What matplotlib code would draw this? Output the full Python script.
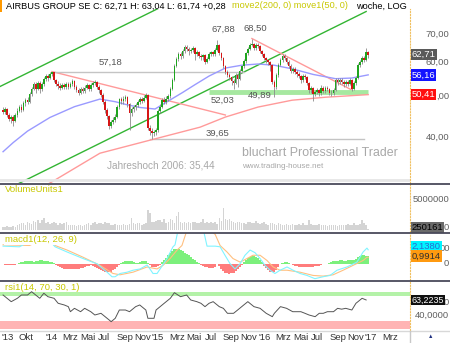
import datetime as dt
import numpy as np
import matplotlib
matplotlib.use('Agg')
import matplotlib.pyplot as plt
from matplotlib.lines import Line2D
from matplotlib.patches import Rectangle

plt.rcParams['font.family'] = ['Liberation Sans', 'DejaVu Sans']

# weekly candles, first week ending 2013-08-09
start = dt.date(2013, 8, 9)

opens = [46.3, 45.9, 46.5, 45.2, 44.1, 44.5, 43.6, 45.0, 46.2, 47.0,
         46.4, 48.1, 49.0, 48.5, 50.6, 52.0, 53.3, 52.1, 53.8, 52.0,
         53.4, 54.9, 55.8, 55.1, 56.4, 57.0, 54.6, 53.5, 52.8, 52.4,
         53.1, 52.6, 53.5, 52.7, 53.3, 54.2, 52.5, 51.8, 51.0, 52.1,
         51.5, 52.4, 53.1, 51.9, 53.0, 53.8, 54.1, 52.6, 51.7, 50.4,
         48.5, 46.3, 44.8, 42.4, 43.5, 44.0, 44.7, 47.0, 49.1, 48.6,
         49.3, 49.7, 47.8, 45.7, 46.5, 47.0, 47.6, 48.5, 49.1, 48.8,
         49.6, 50.4, 42.0, 41.3, 40.8, 41.0, 41.5, 46.0, 47.2, 49.0,
         48.5, 49.3, 50.0, 52.0, 54.6, 59.0, 61.2, 63.0, 62.1, 64.0,
         65.5, 64.8, 63.9, 64.4, 65.2, 62.9, 63.7, 62.2, 61.8, 62.5,
         60.4, 61.3, 62.9, 63.5, 62.8, 64.5, 66.0, 63.2, 61.6, 59.0,
         57.0, 56.2, 55.5, 54.3, 53.8, 56.2, 55.0, 57.4, 58.8, 60.5,
         63.2, 64.8, 66.3, 66.5, 64.9, 66.2, 65.6, 64.0, 62.9, 61.5,
         60.8, 60.1, 59.3, 54.1, 52.5, 56.0, 59.3, 61.0, 62.3, 61.5,
         60.4, 59.0, 57.4, 58.0, 57.0, 56.3, 55.8, 54.6, 55.9, 55.5,
         53.6, 51.6, 52.3, 50.6, 51.2, 51.6, 50.8, 52.4, 51.5, 52.3,
         52.0, 51.0, 50.9, 51.6, 54.6, 53.9, 54.6, 54.0, 53.4, 54.0,
         53.5, 54.6, 52.0, 53.6, 55.1, 59.3, 60.2, 61.6, 60.8, 63.6]
highs = [47.0, 47.1, 46.9, 45.6, 45.2, 45.0, 45.6, 46.8, 47.6, 47.9,
         48.7, 49.6, 49.8, 51.2, 52.6, 54.0, 53.9, 54.4, 54.3, 54.0,
         55.5, 56.3, 56.4, 56.9, 57.18, 57.1, 55.0, 54.2, 53.6, 53.8,
         53.7, 54.1, 54.0, 54.0, 54.8, 54.6, 53.0, 52.3, 52.7, 52.6,
         53.0, 53.7, 53.5, 53.6, 54.3, 54.7, 54.4, 53.1, 52.0, 50.8,
         48.9, 46.8, 45.2, 44.0, 44.6, 45.3, 47.6, 49.6, 49.8, 49.9,
         50.3, 50.0, 48.1, 47.1, 47.6, 48.2, 49.0, 49.7, 49.8, 50.2,
         51.0, 50.7, 42.6, 41.9, 41.6, 42.1, 46.6, 47.8, 49.5, 49.7,
         49.9, 50.6, 52.6, 55.2, 59.6, 61.8, 63.6, 63.8, 64.6, 66.0,
         66.1, 65.3, 65.0, 65.8, 65.5, 64.3, 64.0, 62.9, 63.1, 62.8,
         61.9, 63.5, 64.1, 64.0, 65.1, 67.88, 66.4, 63.7, 62.0, 59.4,
         57.6, 56.8, 55.9, 55.0, 56.8, 56.7, 58.0, 59.4, 61.1, 63.8,
         65.4, 66.9, 68.50, 67.0, 66.8, 66.9, 66.0, 64.5, 63.3, 62.0,
         61.3, 60.6, 59.6, 54.7, 56.6, 59.9, 61.6, 62.9, 62.9, 62.0,
         60.9, 59.5, 58.6, 58.5, 57.6, 56.9, 56.2, 56.5, 56.5, 55.9,
         54.0, 52.9, 52.7, 51.8, 52.2, 52.1, 53.0, 52.9, 52.9, 52.9,
         52.4, 51.6, 52.2, 55.2, 55.1, 55.2, 55.1, 54.5, 54.6, 54.5,
         55.2, 55.0, 54.2, 55.7, 59.9, 60.8, 62.2, 62.1, 65.0, 64.0]
lows = [45.3, 45.4, 44.7, 43.6, 43.2, 42.4, 43.3, 44.6, 45.8, 45.9,
        46.0, 47.5, 47.9, 48.2, 50.1, 51.6, 51.0, 51.8, 50.9, 51.5,
        52.9, 54.3, 54.4, 54.8, 55.7, 54.0, 52.8, 52.0, 51.7, 51.9,
        52.0, 52.1, 52.1, 52.2, 52.9, 51.9, 51.1, 50.4, 50.6, 50.8,
        51.0, 51.9, 51.3, 51.5, 52.5, 53.0, 52.0, 51.0, 49.7, 47.9,
        45.6, 44.1, 41.8, 42.0, 43.0, 43.5, 44.4, 46.6, 47.9, 48.0,
        48.7, 47.2, 41.6, 44.8, 45.9, 46.4, 47.1, 48.0, 48.2, 48.3,
        49.1, 41.5, 40.4, 39.65, 40.1, 40.5, 41.2, 45.6, 46.8, 47.8,
        48.0, 48.8, 49.6, 51.6, 54.2, 58.5, 60.6, 61.2, 61.6, 63.4,
        64.0, 62.6, 63.2, 63.8, 61.0, 62.2, 61.5, 60.8, 61.0, 59.7,
        59.9, 60.8, 62.3, 62.1, 62.4, 64.0, 62.5, 60.9, 58.3, 56.3,
        55.5, 54.6, 53.2, 52.03, 53.4, 52.6, 54.6, 56.9, 58.3, 60.0,
        62.7, 64.2, 65.7, 64.2, 64.4, 64.9, 63.3, 62.2, 60.8, 60.0,
        59.4, 57.5, 53.5, 49.89, 52.0, 55.5, 58.8, 60.4, 60.9, 59.7,
        58.3, 56.6, 56.8, 56.3, 55.4, 55.1, 53.8, 54.1, 54.8, 53.0,
        50.9, 51.0, 48.8, 50.0, 50.5, 50.1, 50.4, 50.9, 51.0, 51.3,
        50.3, 50.1, 50.4, 51.3, 53.2, 53.3, 53.3, 52.7, 52.9, 52.8,
        53.0, 51.4, 51.6, 53.1, 54.8, 58.7, 59.7, 60.2, 60.5, 61.74]
closes = [45.9, 46.5, 45.2, 44.1, 44.5, 43.6, 45.0, 46.2, 47.0, 46.4,
          48.1, 49.0, 48.5, 50.6, 52.0, 53.3, 52.1, 53.8, 52.0, 53.4,
          54.9, 55.8, 55.1, 56.4, 57.0, 54.6, 53.5, 52.8, 52.4, 53.1,
          52.6, 53.5, 52.7, 53.3, 54.2, 52.5, 51.8, 51.0, 52.1, 51.5,
          52.4, 53.1, 51.9, 53.0, 53.8, 54.1, 52.6, 51.7, 50.4, 48.5,
          46.3, 44.8, 42.4, 43.5, 44.0, 44.7, 47.0, 49.1, 48.6, 49.3,
          49.7, 47.8, 45.7, 46.5, 47.0, 47.6, 48.5, 49.1, 48.8, 49.6,
          50.4, 42.0, 41.3, 40.8, 41.0, 41.5, 46.0, 47.2, 49.0, 48.5,
          49.3, 50.0, 52.0, 54.6, 59.0, 61.2, 63.0, 62.1, 64.0, 65.5,
          64.8, 63.9, 64.4, 65.2, 62.9, 63.7, 62.2, 61.8, 62.5, 60.4,
          61.3, 62.9, 63.5, 62.8, 64.5, 66.0, 63.2, 61.6, 59.0, 57.0,
          56.2, 55.5, 54.3, 53.8, 56.2, 55.0, 57.4, 58.8, 60.5, 63.2,
          64.8, 66.3, 66.5, 64.9, 66.2, 65.6, 64.0, 62.9, 61.5, 60.8,
          60.1, 59.3, 54.1, 52.5, 56.0, 59.3, 61.0, 62.3, 61.5, 60.4,
          59.0, 57.4, 58.0, 57.0, 56.3, 55.8, 54.6, 55.9, 55.5, 53.6,
          51.6, 52.3, 50.6, 51.2, 51.6, 50.8, 52.4, 51.5, 52.3, 52.0,
          51.0, 50.9, 51.6, 54.6, 53.9, 54.6, 54.0, 53.4, 54.0, 53.5,
          54.6, 52.0, 53.6, 55.1, 59.3, 60.2, 61.6, 60.8, 63.6, 62.71]

# volume in millions of units
volume_mio = [0.6, 0.5, 0.7, 0.6, 0.5, 0.7, 0.6, 0.8,
              1.0, 1.2, 1.1, 0.9, 1.3, 1.2, 1.0, 1.5, 1.4, 1.7, 1.2, 1.6, 2.0,
              1.1, 1.3, 1.0, 1.2, 1.4, 1.1, 0.9, 1.2, 1.0, 1.1, 1.3,
              0.8, 0.9, 0.8, 0.9, 0.7, 0.8, 0.9, 0.7, 0.9,
              1.0, 1.2, 0.9, 1.1, 1.4, 1.0, 1.1, 1.2, 1.0, 1.3, 1.1, 1.2,
              0.9, 0.8, 1.0, 0.9, 0.8, 0.9, 1.0, 0.8, 0.9, 1.0, 2.0,
              1.1, 1.0, 1.2, 1.1, 0.9, 1.0, 1.2,
              3.4, 2.8, 1.4, 1.3,
              1.5, 1.7, 1.6, 1.3, 1.8, 1.2, 1.4, 1.9,
              1.6, 1.2, 2.3, 3.0,
              1.3, 1.2, 1.4, 1.1, 1.3, 1.2, 1.4, 1.3, 1.1, 1.2, 1.3,
              1.8,
              1.2, 1.3, 1.1, 1.4, 1.2, 1.3, 1.0, 2.0, 1.5,
              3.7,
              1.8, 1.6, 1.9, 1.5,
              1.3, 1.2, 1.4, 1.3, 1.1, 1.2, 1.0, 1.3, 1.4, 1.2, 1.1, 1.5, 1.2, 1.0, 1.1, 1.3,
              1.0, 0.9, 1.1, 1.2, 1.0, 0.9, 1.1, 1.0, 0.8, 0.9, 1.0, 0.9, 0.8, 1.0, 0.9,
              0.8, 1.0, 0.9, 1.1, 0.8, 0.9,
              1.6,
              1.0, 0.9, 0.8, 0.9, 1.0, 0.8, 0.9, 0.8, 0.7, 0.9, 0.8, 0.9, 0.8, 0.7, 0.9,
              0.8, 0.9, 0.8, 1.0, 0.9, 0.8, 1.1, 0.9, 0.8, 1.0,
              1.7, 1.2, 0.9, 0.25]

macd_hist = [-0.1, -0.15,
             -0.2, -0.25, -0.25, -0.2, -0.15, -0.1,
             0.1, 0.2, 0.3, 0.35, 0.4, 0.4, 0.35, 0.3, 0.35, 0.45, 0.5, 0.5, 0.45, 0.4, 0.35, 0.3, 0.2, 0.1,
             -0.2, -0.4, -0.55, -0.7, -0.8, -0.85, -0.85, -0.8, -0.8, -0.75, -0.8, -0.75, -0.7, -0.6, -0.5,
             -0.4, -0.3, -0.25, -0.3, -0.45, -0.6,
             -0.8, -1.0, -1.15, -1.25, -1.3, -1.3, -1.2, -1.0, -0.75, -0.45, -0.15,
             0.1, 0.25, 0.4, 0.45, 0.45, 0.35, 0.2, 0.1, 0.15, 0.3, 0.4, 0.45, 0.35, 0.1,
             -0.2, -0.45, -0.55, -0.5, -0.35, -0.15,
             0.2, 0.5, 0.9, 1.3, 1.7, 2.0, 2.2, 2.3, 2.25, 2.1, 1.9, 1.7, 1.5, 1.3, 1.05, 0.8, 0.55, 0.3, 0.1,
             -0.15, -0.3, -0.45, -0.55, -0.65, -0.7, -0.65, -0.5,
             -0.1,
             -0.4, -0.8, -1.1, -1.35, -1.5, -1.55, -1.5, -1.35, -1.1, -0.8, -0.5, -0.2,
             0.3, 0.6, 0.9, 1.1, 1.2, 1.2, 1.1, 0.9, 0.6, 0.25,
             -0.3, -0.7, -1.0, -1.2, -1.3, -1.2, -0.9, -0.5,
             -0.1, 0.1, 0.2, 0.2, 0.1, -0.05,
             -0.2, -0.3, -0.4, -0.45, -0.5, -0.5, -0.45, -0.45, -0.5, -0.5, -0.45, -0.4, -0.35, -0.3, -0.2, -0.1,
             -0.05, 0.0, 0.05,
             0.3, 0.4, 0.45, 0.45, 0.5, 0.5, 0.45, 0.45, 0.5, 0.5, 0.55, 0.6, 0.7,
             1.0, 1.2, 1.3, 1.3, 1.25, 1.15]

# moving averages, x in weeks from start
ma50_wk = [0, 5, 12, 23, 35, 47.5, 55, 60, 67, 74.5, 82, 88, 94, 101, 109, 117, 125, 133, 142, 152, 163, 171, 179]
ma50_val = [36.9, 38.8, 41.3, 44.5, 47.2, 49.2, 48.5, 47.8, 47.0, 46.6, 49.0, 51.0, 53.2, 55.8, 58.3, 59.2, 59.6,
            59.2, 58.0, 56.3, 55.0, 55.2, 56.16]
ma200_wk = [15, 23, 47.5, 72, 96.6, 109, 125, 141.7, 158, 179]
ma200_val = [29.8, 31.1, 36.6, 39.3, 42.2, 44.6, 47.1, 48.9, 49.7, 50.41]

macd_wk = [0, 8, 13, 18, 22, 25.5, 31.4, 39.2, 46, 51, 53.4, 54.9, 57.4, 60.8, 63.7, 67.2, 70.6, 72, 73.5, 75.5,
           77, 80.4, 83.3, 84.3, 86, 92, 98, 100, 104, 106.4, 108.8, 111.3, 113.7, 116.2, 118.6, 121.1, 123.5,
           126, 128.4, 130.9, 133.3, 135.8, 139.2, 142.2, 145.6, 149, 152.9, 156.9, 160.3, 163.7, 168.6, 173.5,
           176.5, 178.4, 179]
macd_val = [2.7, 2.6, 3.4, 4.0, 3.8, 2.6, 1.8, 0.8, 0.0, -1.3, -2.0, -2.0, -1.5, -1.3, -1.0, -0.8, -0.2, -0.8, -1.5,
            -1.5, -0.8, 0.8, 2.6, 2.9, 5.5, 6.0, 5.5, 2.7, 2.7, 2.6, 1.3, 0.0, -0.8, 0.0, 1.3, 2.1, 1.7, 0.8, -0.25,
            -1.0, -1.5, -1.0, -0.5, -1.0, -1.5, -1.8, -2.3, -2.0, -1.8, -1.0, -0.5, 0.25, 1.8, 2.4, 2.138]
signal_wk = [0, 13, 18, 22, 25.5, 31.4, 39.2, 47.5, 53.9, 57.4, 63.7, 70.6, 75.5, 78.4, 81.9, 85.3, 87.7, 90, 98,
             104, 106.4, 109.8, 112.7, 116.2, 119.6, 122.5, 126, 129.4, 132.4, 135.8, 139.2, 145.6, 152, 156.9,
             161.8, 166.7, 171.6, 176.5, 178.4, 179]
signal_val = [2.9, 2.8, 3.6, 3.7, 2.8, 2.1, 1.0, -0.25, -1.5, -1.7, -1.3, -0.5, -0.8, -0.25, 0.8, 2.1, 2.8, 5.0,
              6.0, 4.5, 2.8, 1.8, 0.8, 0.25, 0.8, 1.3, 1.3, 0.5, -0.5, -1.0, -1.0, -1.3, -1.8, -1.9, -1.7, -1.0,
              -0.25, 0.5, 1.0, 0.9914]

rsi_wk = [0, 4, 7, 9, 12, 14, 16, 18, 20, 22, 25, 27, 30, 32, 33, 35, 38, 40, 43, 45, 48, 51, 53, 55, 57, 60, 62,
          65, 67, 70, 71, 74, 75, 77, 79, 82, 84, 87, 90, 92, 95, 97, 99, 101, 103, 106, 108, 110, 113, 115, 118,
          120, 123, 126, 129, 132, 133, 136, 139, 142, 146, 148, 150, 153, 155, 157, 159, 162, 164, 166, 168, 171,
          173, 174, 176, 178]
rsi_val = [70.9, 60.6, 65.8, 70.9, 70.9, 76.0, 70.9, 65.8, 73.6, 68.3, 65.8, 58.1, 55.5, 52.9, 45.1, 50.3, 45.1,
           50.3, 45.1, 40.0, 42.6, 34.9, 29.7, 34.9, 47.7, 47.7, 45.1, 52.9, 55.5, 47.7, 34.9, 34.9, 47.7, 52.9,
           58.1, 65.8, 74.5, 68.3, 70.9, 63.2, 60.6, 58.1, 52.9, 58.1, 60.6, 52.9, 50.3, 42.6, 42.6, 47.7, 55.5,
           60.6, 52.9, 50.3, 42.6, 37.4, 42.6, 52.9, 50.3, 45.1, 45.1, 42.6, 40.0, 37.4, 42.6, 42.6, 45.1, 45.1,
           50.3, 49.0, 50.3, 47.7, 58.1, 60.6, 65.8, 63.2235]

# drawn trend lines: (week, price) end points
channel_low = ([-2, 178], [29.4, 79.4])
channel_high = ([-1.5, 80], [52.7, 82.5])
down_1 = ([24, 109], [57.18, 45.1])
down_2 = ([122, 171], [68.5, 51.7])

month_ticks = [("2013-10-01", "Okt"), ("2014-01-01", "'14"), ("2014-03-01", "Mrz"), ("2014-05-01", "Mai"),
               ("2014-07-01", "Jul"), ("2014-09-01", "Sep"), ("2014-11-01", "Nov"), ("2015-01-01", "'15"),
               ("2015-03-01", "Mrz"), ("2015-05-01", "Mai"), ("2015-07-01", "Jul"), ("2015-09-01", "Sep"),
               ("2015-11-01", "Nov"), ("2016-01-01", "'16"), ("2016-03-01", "Mrz"), ("2016-05-01", "Mai"),
               ("2016-07-01", "Jul"), ("2016-09-01", "Sep"), ("2016-11-01", "Nov"), ("2017-01-01", "'17"),
               ("2017-03-01", "Mrz")]

W, H = 450, 343
fig = plt.figure(figsize=(W / 100, H / 100), dpi=100)
YEL = '#c8c800'
FS = 6.8


def panel(top, bottom):
    a = fig.add_axes([0, 1 - bottom / H, 410 / W, (bottom - top) / H])
    a.set_xlim(-1.5, 199.5)
    a.set_xticks([])
    a.set_yticks([])
    for s in a.spines.values():
        s.set_visible(False)
    a.spines['right'].set_visible(True)
    a.spines['right'].set_color('#f0c060')
    a.spines['right'].set_linestyle(':')
    return a


def rlabel(a, y, s):
    a.text(449 / 410, y, s, transform=a.get_yaxis_transform(), ha='right', va='center',
           fontsize=FS, color='#606060', clip_on=False)


def vbox(a, y, s, fc, tc='white'):
    a.text(1.004, y, s, transform=a.get_yaxis_transform(), ha='left', va='center', fontsize=FS,
           color=tc, clip_on=False, bbox=dict(boxstyle='square,pad=0.12', fc=fc, ec='none'))


# ---- price panel
ax = panel(9, 183)
ax.set_yscale('log')
ax.set_ylim(31.1, 80.5)
ax.yaxis.set_minor_locator(matplotlib.ticker.NullLocator())

idx = np.arange(len(closes))
o, hi, lo, c = map(np.array, (opens, highs, lows, closes))
up = c >= o

ax.plot(*channel_low, color='#33b533', lw=1, zorder=1)
ax.plot(*channel_high, color='#33b533', lw=1, zorder=1)
ax.plot(*down_1, color='#ff9a9a', lw=1, zorder=1)
ax.plot(*down_2, color='#ff9a9a', lw=1, zorder=1)
ax.plot([24, 118], [57.18, 57.18], color='#c4c4c4', lw=1, zorder=1)
ax.plot([72, 177], [39.65, 39.65], color='#c4c4c4', lw=1, zorder=1)
ax.plot([101, 179], [51.2, 51.2], color='#a6e8a0', lw=3.5, zorder=1, solid_capstyle='butt')
ax.plot(ma200_wk, ma200_val, color='#ff9a9a', lw=1, zorder=1)
ax.plot(ma50_wk, ma50_val, color='#9a9aff', lw=1, zorder=1)

ax.vlines(idx, lo, hi, color='#8a8a8a', lw=0.6, zorder=2)
ax.bar(idx[up], (c - o)[up], bottom=o[up], width=0.8, color='#1fa51f', lw=0, zorder=3)
ax.bar(idx[~up], (o - c)[~up], bottom=c[~up], width=0.8, color='#d61616', lw=0, zorder=3)
ax.plot([0, 1], [0.017, 0.017], transform=ax.transAxes, color='#e6e6e6', lw=2)

lab = dict(fontsize=FS, color='#555555', ha='center', va='center')
ax.text(52.5, 60.3, '57,18', **lab)
ax.text(107.8, 72.2, '67,88', **lab)
ax.text(123.5, 72.6, '68,50', **lab)
ax.text(107.4, 49.0, '52,03', **lab)
ax.text(126, 50.1, '49,89', **lab)
ax.text(105, 40.8, '39,65', **lab)
ax.text(77.5, 34.3, 'Jahreshoch 2006: 35,44', fontsize=7.2, color='#a8a8a8', ha='center', va='center')
ax.text(117.2, 36.6, 'bluchart Professional Trader', fontsize=8.9, color='#a8a8a8', ha='left', va='center')
ax.text(117.2, 34.1, 'www.trading-house.net', fontsize=5.8, color='#a8a8a8', ha='left', va='center')

for v, s in [(70, '70,00'), (60, '60,00'), (50, ',00'), (40, '40,00')]:
    rlabel(ax, v, s)
vbox(ax, closes[-1], '62,71', '#5a5a5a')
vbox(ax, ma50_val[-1], '56,16', '#1414ff')
vbox(ax, ma200_val[-1], '50,41', '#ff1010')

# ---- volume panel
av = panel(184, 232)
av.set_ylim(-0.3, 7.6)
av.bar(idx, volume_mio, width=0.75, color='#d4d4d4', lw=0)
av.text(5 / 410, 0.88, 'VolumeUnits1', transform=av.transAxes, fontsize=FS, color=YEL, va='center')
rlabel(av, 5.0, '5000000')
rlabel(av, 0.4, '0')
av.text(1.004, 0.4, '250161', transform=av.get_yaxis_transform(), ha='left', va='center', fontsize=FS,
        color='black', clip_on=False, bbox=dict(boxstyle='square,pad=0.12', fc='#6a6a6a', ec='none'))

# ---- macd panel
am = panel(233, 280)
am.set_ylim(-2.5, 4.72)
hist = np.array(macd_hist)
am.bar(idx, hist, width=1.0, color=np.where(hist >= 0, '#7cf07c', '#ff7c7c'), lw=0)
am.plot(signal_wk, signal_val, color='#ffc080', lw=0.8)
am.plot(macd_wk, macd_val, color='#80f4ff', lw=0.8)
am.text(5 / 410, 0.87, 'macd1(12, 26, 9)', transform=am.transAxes, fontsize=FS, color=YEL, va='center',
        bbox=dict(boxstyle='square,pad=0.1', fc='white', ec='none'))
am.text(450 / 410, 2.3, '00', transform=am.get_yaxis_transform(), ha='right', va='center',
        fontsize=FS, color='#606060', clip_on=False)
rlabel(am, 0.0, '0')
vbox(am, 2.6, '2,1380', '#00f4ff', '#2a6ad0')
vbox(am, 1.2, '0,9914', '#ff9a10', '#303030')

# ---- rsi panel
ar = panel(282, 330)
ar.set_ylim(16.8, 91)
ar.axhspan(70, 76, color='#b4f2a8', lw=0)
ar.axhspan(18.3, 30, color='#ffb4b4', lw=0)
ar.plot(rsi_wk, rsi_val, color='#555555', lw=0.7)
ar.text(5 / 410, 0.88, 'rsi1(14, 70, 30, 1)', transform=ar.transAxes, fontsize=FS, color=YEL, va='center')
rlabel(ar, 60, '0')
rlabel(ar, 40, '40,0000')
ar.text(1.004, 63.2235, '63,2235', transform=ar.get_yaxis_transform(), ha='left', va='center', fontsize=6.4,
        color='white', clip_on=False, bbox=dict(boxstyle='square,pad=0.1', fc='#111111', ec='none'))

# x axis labels below the rsi panel
ar.text(-1.0, -0.16, "'13", transform=ar.get_xaxis_transform(), fontsize=FS, color='#333333',
        ha='left', va='center')
for d, s in month_ticks:
    wk = (dt.date.fromisoformat(d) - start).days / 7
    ar.text(wk, -0.16, s, transform=ar.get_xaxis_transform(), fontsize=FS, color='#333333',
            ha='left', va='center', clip_on=False)

# separators and frame pieces
for ypx, col, lw in [(183.5, '#4a4a5a', 1.3), (232.5, '#4a4a5a', 1.3), (280.8, '#4a4a5a', 1.3),
                     (330.5, '#d8d8d8', 1.0)]:
    fig.add_artist(Line2D([0, 1], [1 - ypx / H] * 2, transform=fig.transFigure, color=col, lw=lw))
fig.add_artist(Line2D([410 / W] * 2, [0, 1 - 331 / H], transform=fig.transFigure, color='#c8c8c8', lw=1))
fig.text(431 / W, 1 - 337 / H, '▲', fontsize=4, color='#203080', ha='center', va='center')

# header
fig.add_artist(Rectangle((0, 1 - 12 / H), 2 / W, 12 / H, transform=fig.transFigure, color='#ff9900', lw=0))
fig.text(6 / W, 1 - 6 / H, 'AIRBUS GROUP SE C: 62,71 H: 63,04 L: 61,74 +0,28', fontsize=6.6, va='center')
fig.text(232 / W, 1 - 6 / H, 'move2(200, 0) move1(50, 0)', fontsize=6.6, va='center', color=YEL)
fig.text(356 / W, 1 - 6 / H, 'woche, LOG', fontsize=6.6, va='center')

fig.savefig('out.png', dpi=100)
